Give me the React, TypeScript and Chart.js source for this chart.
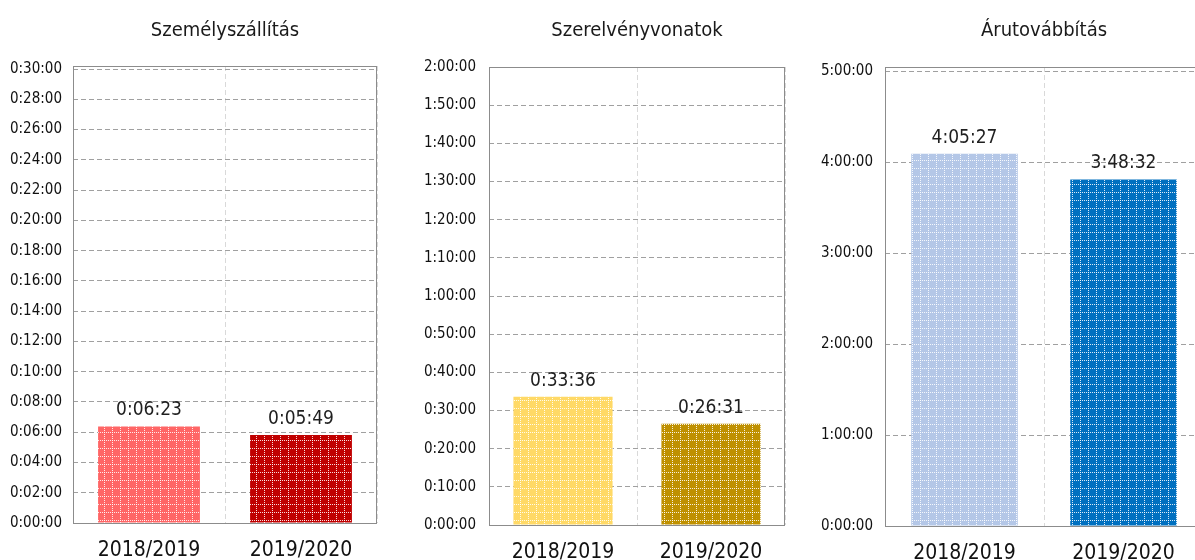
import React, { useEffect, useRef } from 'react';
import { Chart, registerables } from 'chart.js';

Chart.register(...registerables);

// ---- data (durations in seconds) ----
const categories = ['2018/2019', '2019/2020'];
const passengerTitle = 'Személyszállítás';
const passengerValues = [383, 349]; // 0:06:23, 0:05:49
const trainsetTitle = 'Szerelvényvonatok';
const trainsetValues = [2016, 1591]; // 0:33:36, 0:26:31
const freightTitle = 'Árutovábbítás';
const freightValues = [14727, 13712]; // 4:05:27, 3:48:32

const passengerColors = ['#FF6666', '#C00000'];
const trainsetColors = ['#FFD966', '#BF9000'];
const freightColors = ['#B4C7E7', '#0070C0'];

// tick values (seconds)
const passengerTicks = [0, 120, 240, 360, 480, 600, 720, 840, 960, 1080, 1200, 1320, 1440, 1560, 1680, 1800];
const trainsetTicks = [0, 600, 1200, 1800, 2400, 3000, 3600, 4200, 4800, 5400, 6000, 6600, 7200];
const freightTicks = [0, 3600, 7200, 10800, 14400, 18000];

const FONT = '"DejaVu Sans Condensed", "Liberation Sans", sans-serif';

function pad2(n: number) {
  return n < 10 ? '0' + n : String(n);
}
function fmt(sec: number) {
  const h = Math.floor(sec / 3600);
  const m = Math.floor((sec % 3600) / 60);
  const s = Math.round(sec % 60);
  return `${h}:${pad2(m)}:${pad2(s)}`;
}

function makePattern(color: string): CanvasPattern | string {
  const tile = document.createElement('canvas');
  tile.width = 8;
  tile.height = 8;
  const c = tile.getContext('2d');
  if (!c) return color;
  c.fillStyle = color;
  c.fillRect(0, 0, 8, 8);
  c.fillStyle = 'rgba(255,255,255,0.85)';
  for (let i = 0; i < 8; i += 2) {
    c.fillRect(i, 0, 1, 1);
    c.fillRect(0, i, 1, 1);
  }
  const p = c.createPattern(tile, 'repeat');
  return p || color;
}

const valueLabelPlugin = {
  id: 'valueLabels',
  afterDatasetsDraw(chart: any) {
    const ctx = chart.ctx;
    const meta = chart.getDatasetMeta(0);
    const data = chart.data.datasets[0].data as number[];
    ctx.save();
    ctx.font = `19px ${FONT}`;
    ctx.fillStyle = '#1f1f1f';
    ctx.textAlign = 'center';
    ctx.textBaseline = 'alphabetic';
    meta.data.forEach((bar: any, i: number) => {
      ctx.fillText(fmt(data[i]), bar.x, bar.y - 11);
    });
    ctx.restore();
  },
};

const framePlugin = {
  id: 'frame',
  beforeDatasetsDraw(chart: any) {
    const { ctx, chartArea } = chart;
    ctx.save();
    ctx.strokeStyle = '#8c8c8c';
    ctx.lineWidth = 1;
    ctx.strokeRect(
      Math.round(chartArea.left) + 0.5,
      Math.round(chartArea.top) + 0.5,
      Math.round(chartArea.right - chartArea.left) - 1,
      Math.round(chartArea.bottom - chartArea.top)
    );
    ctx.restore();
  },
};

type PanelProps = {
  title: string;
  values: number[];
  colors: string[];
  ticks: number[];
  max: number;
  left: number;
  width: number;
  axisWidth: number;
  rightPad: number;
  chartTop: number;
  chartBottom: number;
  tickPad: number;
};

function Panel(props: PanelProps) {
  const ref = useRef<HTMLCanvasElement | null>(null);
  useEffect(() => {
    if (!ref.current) return;
    const { title, values, colors, ticks, max, axisWidth, rightPad, chartTop, chartBottom, tickPad } = props;
    const chart = new Chart(ref.current, {
      type: 'bar',
      data: {
        labels: categories,
        datasets: [
          {
            data: values,
            backgroundColor: colors.map(makePattern) as any,
            borderWidth: 0,
            categoryPercentage: 1,
            barPercentage: 0.67,
          },
        ],
      },
      options: {
        animation: false,
        responsive: false,
        maintainAspectRatio: false,
        layout: { padding: { left: 0, right: rightPad, top: 0, bottom: 0 } },
        plugins: {
          legend: { display: false },
          tooltip: { enabled: false },
          title: {
            display: true,
            text: title,
            fullSize: false,
            color: '#1a1a1a',
            font: { family: FONT, size: 20, weight: 'normal' as any, lineHeight: 1.2 },
            padding: { top: 19, bottom: chartTop - 19 - 24 },
          },
        },
        scales: {
          x: {
            grid: {
              display: true,
              offset: true,
              drawTicks: false,
              color: '#d9d9d9',
              lineWidth: 1,
            },
            border: { display: false, dash: [5, 3] },
            ticks: {
              color: '#111111',
              padding: 15,
              font: { family: FONT, size: 21 },
              maxRotation: 0,
            },
            afterFit: (scale: any) => {
              scale.height = 560 - chartBottom;
            },
          },
          y: {
            min: 0,
            max: max,
            ticks: {
              color: '#111111',
              padding: tickPad,
              font: { family: FONT, size: 15 },
              callback: (v: any) => fmt(Number(v)),
            },
            afterBuildTicks: (scale: any) => {
              scale.ticks = ticks.map((v) => ({ value: v }));
            },
            grid: {
              drawTicks: false,
              color: '#a0a0a0',
              lineWidth: 1,
            },
            border: { display: false, dash: [5, 3] },
            afterFit: (scale: any) => {
              scale.width = axisWidth;
            },
          },
        },
      },
      plugins: [framePlugin, valueLabelPlugin],
    });
    return () => chart.destroy();
  }, []);
  return (
    <canvas
      ref={ref}
      width={props.width}
      height={560}
      style={{ position: 'absolute', left: props.left, top: 0, width: props.width, height: 560, display: 'block' }}
    />
  );
}

export default function App() {
  return (
    <div
      style={{
        position: 'fixed',
        left: 0,
        top: 0,
        width: 1195,
        height: 560,
        overflow: 'hidden',
        background: '#ffffff',
      }}
    >
      <Panel
        title={passengerTitle}
        values={passengerValues}
        colors={passengerColors}
        ticks={passengerTicks}
        max={1812}
        left={0}
        width={395}
        axisWidth={73}
        rightPad={18}
        chartTop={66}
        chartBottom={523}
        tickPad={11}
      />
      <Panel
        title={trainsetTitle}
        values={trainsetValues}
        colors={trainsetColors}
        ticks={trainsetTicks}
        max={7200}
        left={400}
        width={400}
        axisWidth={89}
        rightPad={15}
        chartTop={67}
        chartBottom={525}
        tickPad={13}
      />
      <Panel
        title={freightTitle}
        values={freightValues}
        colors={freightColors}
        ticks={freightTicks}
        max={18159}
        left={800}
        width={420}
        axisWidth={85}
        rightPad={17}
        chartTop={67}
        chartBottom={526}
        tickPad={12}
      />
    </div>
  );
}
